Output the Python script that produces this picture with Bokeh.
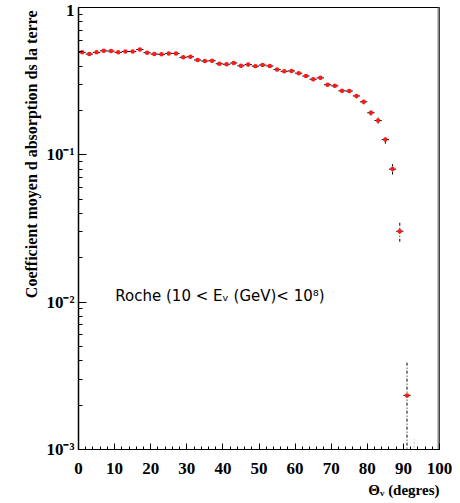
from bokeh.plotting import figure
from bokeh.models import (Range1d, Label, Title, SingleIntervalTicker,
                          CustomJSTickFormatter, ColumnDataSource)
from bokeh.embed import file_html
from bokeh.resources import INLINE

# ---- data ----
theta = [1, 3, 5, 7, 9, 11, 13, 15, 17, 19,
         21, 23, 25, 27, 29, 31, 33, 35, 37, 39,
         41, 43, 45, 47, 49, 51, 53, 55, 57, 59,
         61, 63, 65, 67, 69, 71, 73, 75, 77, 79,
         81, 83, 85, 87, 89, 91]
coef = [0.496, 0.483, 0.496, 0.508, 0.506, 0.496, 0.503, 0.503, 0.519, 0.493,
        0.483, 0.481, 0.488, 0.488, 0.459, 0.463, 0.440, 0.433, 0.435, 0.415,
        0.412, 0.420, 0.402, 0.410, 0.400, 0.407, 0.401, 0.379, 0.369, 0.371,
        0.358, 0.343, 0.326, 0.333, 0.299, 0.294, 0.272, 0.271, 0.251, 0.229,
        0.193, 0.171, 0.127, 0.080, 0.0303, 0.00233]
coef_err = [0.012, 0.012, 0.012, 0.012, 0.012, 0.012, 0.012, 0.012, 0.012, 0.012,
            0.012, 0.012, 0.012, 0.012, 0.012, 0.012, 0.012, 0.012, 0.012, 0.012,
            0.012, 0.012, 0.012, 0.012, 0.012, 0.010, 0.010, 0.010, 0.010, 0.010,
            0.010, 0.010, 0.010, 0.010, 0.010, 0.009, 0.009, 0.009, 0.009, 0.009,
            0.008, 0.008, 0.008, 0.0065, 0.0046, 0.0016]
bin_half = 1.0
faint_theta = [93]
faint_lo = [0.0008]
faint_hi = [0.00118]

src = ColumnDataSource(dict(
    x=theta, y=coef,
    x0=[t - bin_half for t in theta], x1=[t + bin_half for t in theta],
    ylo=[c - e for c, e in zip(coef, coef_err)],
    yhi=[c + e for c, e in zip(coef, coef_err)],
))

p = figure(width=455, height=500, output_backend="svg", toolbar_location=None,
           x_range=Range1d(0, 100), y_range=Range1d(1e-3, 1), y_axis_type="log",
           min_border_left=78, min_border_right=16, min_border_top=7,
           min_border_bottom=48)
p.background_fill_color = "white"
p.border_fill_color = "white"
p.outline_line_color = "black"
p.outline_line_width = 1
p.grid.visible = False

serif = "Liberation Serif"

# x axis
xa = p.xaxis[0]
xa.ticker = SingleIntervalTicker(interval=10, num_minor_ticks=5)
xa.major_tick_in = 6
xa.major_tick_out = 0
xa.minor_tick_in = 3
xa.minor_tick_out = 0
xa.major_label_standoff = 13
xa.major_label_text_font = serif
xa.major_label_text_font_style = "bold"
xa.major_label_text_font_size = "17px"
xa.major_label_text_color = "black"
xa.axis_line_color = "black"

# y axis
ya = p.yaxis[0]
ya.major_tick_in = 8
ya.major_tick_out = 0
ya.minor_tick_in = 4
ya.minor_tick_out = 0
ya.major_label_standoff = 4
ya.major_label_text_font = serif
ya.major_label_text_font_style = "bold"
ya.major_label_text_font_size = "17px"
ya.major_label_text_color = "black"
ya.axis_line_color = "black"
ya.axis_line_width = 1.5
ya.formatter = CustomJSTickFormatter(code="""
const e = Math.round(Math.log10(tick));
if (e === 0) return "1";
const sup = {"-": "\u207b", "0": "\u2070", "1": "\u00b9", "2": "\u00b2", "3": "\u00b3",
             "4": "\u2074", "5": "\u2075", "6": "\u2076", "7": "\u2077", "8": "\u2078", "9": "\u2079"};
return "10" + String(e).split("").map(c => sup[c]).join("");
""")

# axis titles, aligned like the reference (top / right)
p.add_layout(Title(text="Coefficient moyen d absorption ds la terre", align="right",
                   offset=3, text_font=serif, text_font_style="bold",
                   text_font_size="16px", text_color="black", standoff=7), "left")
p.add_layout(Title(text="\u0398\u1d65 (degres)", align="right",
                   text_font=serif, text_font_style="bold", standoff=6,
                   text_font_size="15px", text_color="black"), "below")

# grey right frame edge (half of it falls inside the frame)
p.segment(x0=[100], x1=[100], y0=[1e-3], y1=[1], line_color="#8a8a8a", line_width=4)

# bins (horizontal) and error bars (vertical)
p.segment(x0="x0", x1="x1", y0="y", y1="y", source=src, line_color="black", line_width=1)
p.segment(x0="x", x1="x", y0="ylo", y1="yhi", source=src, line_color="black",
          line_width=1, line_dash="3 2 1 2")
p.segment(x0=faint_theta, x1=faint_theta, y0=faint_lo, y1=faint_hi,
          line_color="#c0c0c0", line_width=1, line_dash="2 2")
p.scatter(x="x", y="y", source=src, marker="circle", size=4.5,
          fill_color="#ff1a1a", line_color=None)

# annotation
p.add_layout(Label(x=10.2, y=10 ** -1.96, text="Roche (10 < E\u1d65 (GeV)< 10\u2078)",
                   text_font="DejaVu Sans", text_font_size="15px",
                   text_color="black", text_baseline="middle", text_align="left"))

open("out.html", "w").write(file_html(p, INLINE))
